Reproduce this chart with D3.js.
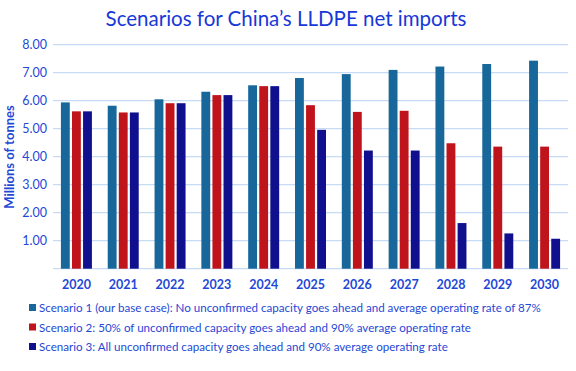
<!DOCTYPE html>
<html>
<head>
  <meta charset='utf-8'>
  <script src='https://d3js.org/d3.v7.min.js'></script>
  <style>
    body { margin: 0; background: #fff; }
    text { font-family: Lato, sans-serif; }
  </style>
</head>
<body>
<script>
  // chart values
  var years = ['2020', '2021', '2022', '2023', '2024', '2025', '2026', '2027', '2028', '2029', '2030'];
  var scenario1 = [5.94, 5.82, 6.05, 6.32, 6.55, 6.81, 6.95, 7.10, 7.22, 7.31, 7.43];
  var scenario2 = [5.62, 5.58, 5.91, 6.20, 6.52, 5.84, 5.60, 5.64, 4.48, 4.36, 4.36];
  var scenario3 = [5.62, 5.58, 5.91, 6.20, 6.52, 4.96, 4.22, 4.22, 1.63, 1.26, 1.07];
  var yTicks = [1, 2, 3, 4, 5, 6, 7, 8];
  var seriesNames = [
    'Scenario 1 (our base case): No unconfirmed capacity goes ahead and average operating rate of 87%',
    'Scenario 2: 50% of unconfirmed capacity goes ahead and 90% average operating rate',
    'Scenario 3: All unconfirmed capacity goes ahead and 90% average operating rate'
  ];
  var colors = ['#17679a', '#c0141c', '#10108f'];
  var textBlue = '#1f48d6';

  var W = 576, H = 371;
  var plotLeft = 53, plotRight = 568, plotTop = 44.7, plotBottom = 268.7;

  var svg = d3.select('body').append('svg')
    .attr('width', W)
    .attr('height', H);

  svg.append('text')
    .attr('x', 286)
    .attr('y', 26)
    .attr('text-anchor', 'middle')
    .style('font-size', '20.5px')
    .style('fill', '#1638d8')
    .text('Scenarios for China\u2019s LLDPE net imports');

  var x = d3.scaleBand().domain(years).range([plotLeft, plotRight]);
  var x1 = d3.scaleBand().domain([0, 1, 2]).range([0, 31]).paddingInner(0.2);
  var y = d3.scaleLinear().domain([0, 8]).range([plotBottom, plotTop]);

  // gridlines
  svg.append('g')
    .selectAll('line')
    .data([0].concat(yTicks))
    .enter()
    .append('line')
    .attr('x1', plotLeft)
    .attr('x2', plotRight)
    .attr('y1', function(d) { return y(d); })
    .attr('y2', function(d) { return y(d); })
    .style('stroke', '#c6dbf6')
    .style('stroke-width', 1.3);

  // y axis labels
  var yAxis = d3.axisLeft(y).tickValues(yTicks).tickFormat(d3.format('.2f')).tickSize(0).tickPadding(6);
  var gy = svg.append('g').attr('transform', 'translate(' + plotLeft + ',0)').call(yAxis);
  gy.select('.domain').remove();
  gy.selectAll('text')
    .style('font-size', '12.5px')
    .style('font-family', 'Lato, sans-serif')
    .style('fill', textBlue);

  svg.append('text')
    .attr('transform', 'translate(14,157) rotate(-90)')
    .attr('text-anchor', 'middle')
    .style('font-size', '13px')
    .style('font-weight', 'bold')
    .style('fill', textBlue)
    .text('Millions of tonnes');

  // x axis labels
  var xAxis = d3.axisBottom(x).tickSize(0).tickPadding(11);
  var gx = svg.append('g').attr('transform', 'translate(0,' + plotBottom + ')').call(xAxis);
  gx.select('.domain').remove();
  gx.selectAll('text')
    .style('font-size', '12.5px')
    .style('font-weight', 'bold')
    .style('font-family', 'Lato, sans-serif')
    .style('fill', textBlue);

  // bars
  var allSeries = [scenario1, scenario2, scenario3];
  var groups = svg.selectAll('.year')
    .data(years)
    .enter()
    .append('g')
    .attr('transform', function(d) { return 'translate(' + (x(d) + x.bandwidth() / 2 - 15.5) + ',0)'; });

  groups.selectAll('rect')
    .data(function(d, i) {
      return allSeries.map(function(s, k) { return { k: k, v: s[i] }; });
    })
    .enter()
    .append('rect')
    .attr('x', function(d) { return x1(d.k); })
    .attr('width', x1.bandwidth())
    .attr('y', function(d) { return y(d.v); })
    .attr('height', function(d) { return y(0) - y(d.v); })
    .style('fill', function(d) { return colors[d.k]; });

  // legend
  var legend = svg.selectAll('.legend')
    .data(seriesNames)
    .enter()
    .append('g')
    .attr('transform', function(d, i) { return 'translate(29,' + (312 + i * 19.5) + ')'; });

  legend.append('rect')
    .attr('x', 0)
    .attr('y', -8)
    .attr('width', 7)
    .attr('height', 7)
    .style('fill', function(d, i) { return colors[i]; });

  legend.append('text')
    .attr('x', 10)
    .attr('y', 0)
    .style('font-size', '11.6px')
    .style('fill', textBlue)
    .text(function(d) { return d; });
</script>
</body>
</html>
